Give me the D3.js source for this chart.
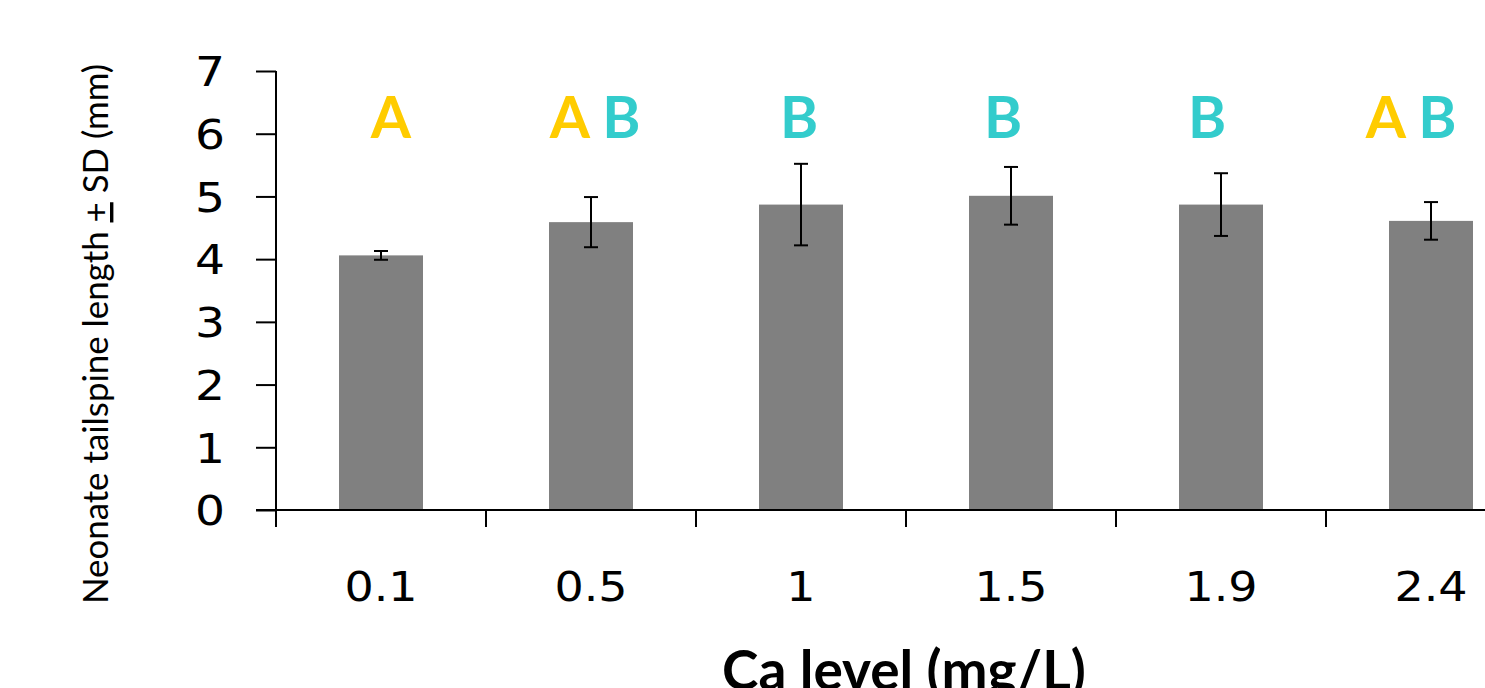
<!DOCTYPE html>
<html>
<head>
<meta charset="utf-8">
<script src="https://cdn.jsdelivr.net/npm/d3@7"></script>
<style>
  body { margin: 0; background: #fff; }
</style>
</head>
<body>
<svg width="1485" height="688"></svg>
<script>
// data
var categories = ["0.1", "0.5", "1", "1.5", "1.9", "2.4"];
var means = [4.06, 4.59, 4.87, 5.01, 4.87, 4.61];
var sds = [0.07, 0.40, 0.65, 0.46, 0.50, 0.30];
var groups = ["A", "A B", "B", "B", "B", "A B"];
var yTicks = [0, 1, 2, 3, 4, 5, 6, 7];

var letterColor = { "A": "#ffcc00", "B": "#33cccc" };
var stretch = 1.15; // tick labels in the original are drawn a bit wide

var svg = d3.select("svg"),
    margin = { top: 71, left: 276, bottom: 178 },
    height = +svg.attr("height") - margin.top - margin.bottom,
    width = 1260; // plot runs past the right edge, as in the original

var g = svg.append("g").attr("transform", "translate(" + margin.left + "," + margin.top + ")");

var x = d3.scaleBand()
    .domain(categories)
    .range([0, width])
    .paddingInner(0.6)
    .paddingOuter(0.3);

// the letters sit on a slightly tighter spacing than the bars
var xLetters = d3.scalePoint()
    .domain(categories)
    .range([115, 1135]);

var y = d3.scaleLinear()
    .domain([0, 7])
    .range([height, 0]);

// y axis
var yAxis = g.append("g")
    .call(d3.axisLeft(y).tickValues(yTicks).tickSize(20).tickPadding(30).tickFormat(d3.format("d")));
yAxis.select(".domain").attr("stroke-width", 2).attr("d", "M0,0V" + height);
yAxis.selectAll(".tick line").attr("stroke-width", 2);
yAxis.selectAll(".tick text")
    .attr("font-family", "DejaVu Sans")
    .attr("font-size", 41)
    .attr("fill", "#000")
    .attr("dy", "0.36em")
    .attr("x", -51 / stretch)
    .attr("transform", "scale(" + stretch + ",1)");

// bars
g.selectAll(".bar")
    .data(means)
    .enter().append("rect")
    .attr("class", "bar")
    .attr("x", function (d, i) { return x(categories[i]); })
    .attr("width", x.bandwidth())
    .attr("y", function (d) { return y(d); })
    .attr("height", function (d) { return height - y(d); })
    .attr("fill", "#808080");

// error bars
var err = g.selectAll(".err")
    .data(means)
    .enter().append("g")
    .attr("class", "err")
    .attr("stroke", "#000")
    .attr("stroke-width", 2)
    .attr("transform", function (d, i) { return "translate(" + (x(categories[i]) + x.bandwidth() / 2) + ",0)"; });
err.append("line")
    .attr("y1", function (d, i) { return y(d + sds[i]); })
    .attr("y2", function (d, i) { return y(d - sds[i]); });
err.append("line")
    .attr("x1", -7).attr("x2", 7)
    .attr("y1", function (d, i) { return y(d + sds[i]); })
    .attr("y2", function (d, i) { return y(d + sds[i]); });
err.append("line")
    .attr("x1", -7).attr("x2", 7)
    .attr("y1", function (d, i) { return y(d - sds[i]); })
    .attr("y2", function (d, i) { return y(d - sds[i]); });

// x axis: line plus ticks between categories
g.append("line")
    .attr("x1", -20).attr("x2", width)
    .attr("y1", height).attr("y2", height)
    .attr("stroke", "#000").attr("stroke-width", 2);
var bounds = categories.map(function (c) { return x(c) - x.step() * x.paddingInner() / 2; });
g.selectAll(".xtick")
    .data(bounds)
    .enter().append("line")
    .attr("x1", function (d) { return d; })
    .attr("x2", function (d) { return d; })
    .attr("y1", height).attr("y2", height + 17)
    .attr("stroke", "#000").attr("stroke-width", 2);
g.selectAll(".xlabel")
    .data(categories)
    .enter().append("text")
    .attr("transform", "scale(" + stretch + ",1)")
    .attr("x", function (d) { return (x(d) + x.bandwidth() / 2) / stretch; })
    .attr("y", height + 91)
    .attr("text-anchor", "middle")
    .attr("font-family", "DejaVu Sans")
    .attr("font-size", 40)
    .text(function (d) { return d; });

// significance letters
var sig = g.selectAll(".sig")
    .data(groups)
    .enter().append("text")
    .attr("x", function (d, i) { return xLetters(categories[i]); })
    .attr("y", y(6) + 4)
    .attr("text-anchor", "middle")
    .attr("font-family", "Lato")
    .attr("font-weight", "bold")
    .attr("font-size", 58);
sig.each(function (d) {
    var t = d3.select(this);
    d.split("").forEach(function (ch) {
        t.append("tspan")
            .attr("fill", letterColor[ch] || "none")
            .text(ch === " " ? "\u00a0" : ch);
    });
});

// axis titles
var yl = svg.append("text")
    .attr("transform", "translate(108,334) rotate(-90)")
    .attr("text-anchor", "middle")
    .attr("font-family", "Lato")
    .attr("font-size", 34)
    .attr("textLength", 540)
    .attr("lengthAdjust", "spacingAndGlyphs");
yl.append("tspan").text("Neonate tailspine length ");
yl.append("tspan").attr("text-decoration", "underline").text("+");
yl.append("tspan").text(" SD (mm)");

svg.append("text")
    .attr("x", 904)
    .attr("y", 690)
    .attr("text-anchor", "middle")
    .attr("font-family", "Lato")
    .attr("font-weight", "bold")
    .attr("font-size", 55)
    .text("Ca level (mg/L)");
</script>
</body>
</html>
